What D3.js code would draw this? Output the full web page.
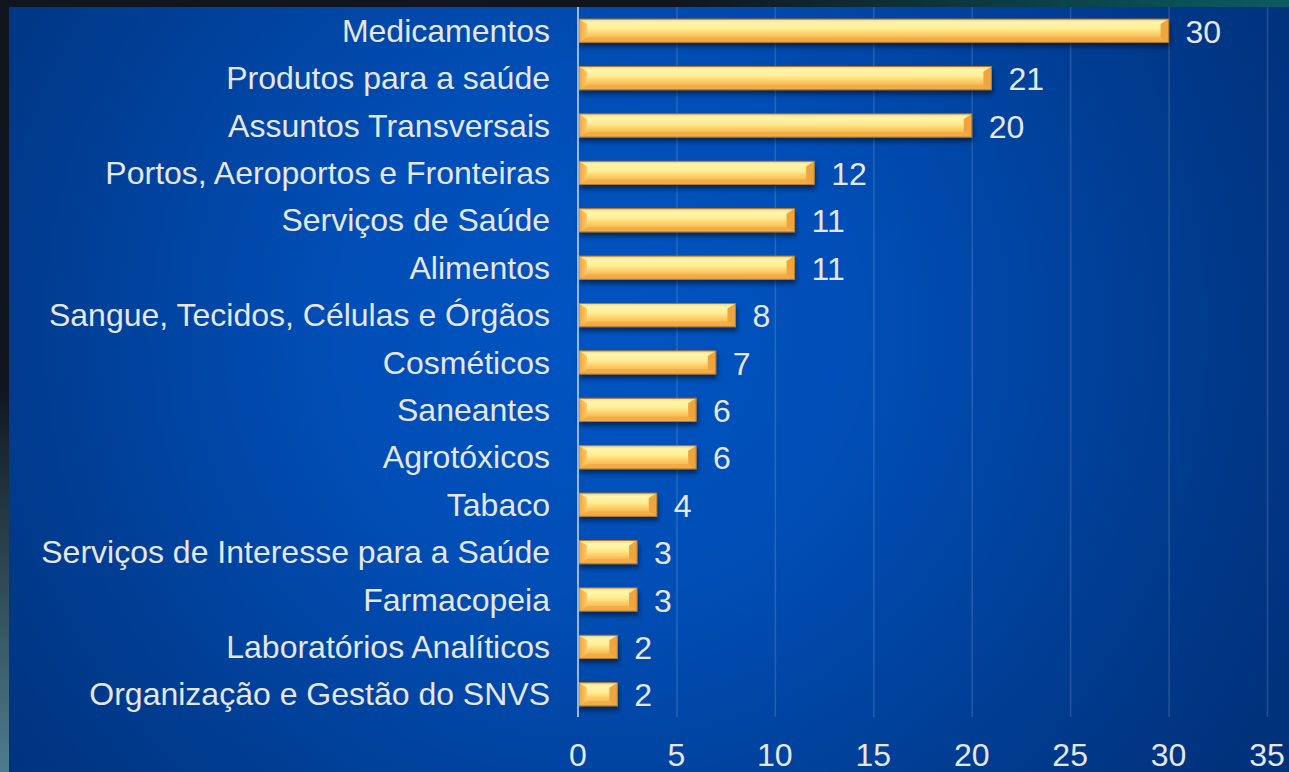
<!DOCTYPE html>
<html><head><meta charset="utf-8">
<script src="https://cdn.jsdelivr.net/npm/d3@7"></script>
<style>html,body{margin:0;padding:0;background:#10151e;}svg{display:block;}</style>
</head><body>
<script>
const categories = ["Medicamentos","Produtos para a saúde","Assuntos Transversais","Portos, Aeroportos e Fronteiras","Serviços de Saúde","Alimentos","Sangue, Tecidos, Células e Órgãos","Cosméticos","Saneantes","Agrotóxicos","Tabaco","Serviços de Interesse para a Saúde","Farmacopeia","Laboratórios Analíticos","Organização e Gestão do SNVS"];
const values = [30,21,20,12,11,11,8,7,6,6,4,3,3,2,2];
const ticks = [0,5,10,15,20,25,30,35];

const W = 1289, H = 772;
const svg = d3.select("body").append("svg").attr("width", W).attr("height", H);
const defs = svg.append("defs");

// frame gradients
const gTop = defs.append("linearGradient").attr("id","gTop").attr("x1","0").attr("x2","1").attr("y1","0").attr("y2","0");
gTop.append("stop").attr("offset","0").attr("stop-color","#10151e");
gTop.append("stop").attr("offset","0.52").attr("stop-color","#10151e");
gTop.append("stop").attr("offset","1").attr("stop-color","#0a5c62");
const gLeft = defs.append("linearGradient").attr("id","gLeft").attr("x1","0").attr("x2","0").attr("y1","0").attr("y2","1");
gLeft.append("stop").attr("offset","0").attr("stop-color","#10151e");
gLeft.append("stop").attr("offset","0.5").attr("stop-color","#10161f");
gLeft.append("stop").attr("offset","1").attr("stop-color","#4e7c8c");

const gBg = defs.append("radialGradient").attr("id","gBg").attr("gradientUnits","userSpaceOnUse")
  .attr("cx",600).attr("cy",330).attr("r",760);
gBg.append("stop").attr("offset","0").attr("stop-color","#0054c2");
gBg.append("stop").attr("offset","0.35").attr("stop-color","#004eb6");
gBg.append("stop").attr("offset","0.8").attr("stop-color","#003a8c");
gBg.append("stop").attr("offset","1").attr("stop-color","#00327c");

// bar gradients
const gBar = defs.append("linearGradient").attr("id","gBar").attr("x1","0").attr("x2","0").attr("y1","0").attr("y2","1");
gBar.append("stop").attr("offset","0").attr("stop-color","#f6d27a");
gBar.append("stop").attr("offset","0.14").attr("stop-color","#fff6b2");
gBar.append("stop").attr("offset","0.42").attr("stop-color","#ffed92");
gBar.append("stop").attr("offset","0.68").attr("stop-color","#fcc862");
gBar.append("stop").attr("offset","1").attr("stop-color","#f2aa44");
const gL = defs.append("linearGradient").attr("id","gL").attr("x1","0").attr("x2","1").attr("y1","0").attr("y2","0");
gL.append("stop").attr("offset","0").attr("stop-color","#f2a63a");
gL.append("stop").attr("offset","1").attr("stop-color","#fcc868");

const shadow = defs.append("filter").attr("id","shadow").attr("x","-10%").attr("y","-50%").attr("width","120%").attr("height","250%");
shadow.append("feGaussianBlur").attr("in","SourceAlpha").attr("stdDeviation",2.5).attr("result","b");
shadow.append("feOffset").attr("in","b").attr("dx",1).attr("dy",4).attr("result","o");
shadow.append("feComponentTransfer").attr("in","o").attr("result","o2").append("feFuncA").attr("type","linear").attr("slope",0.5);
const fm = shadow.append("feMerge");
fm.append("feMergeNode").attr("in","o2");
fm.append("feMergeNode").attr("in","SourceGraphic");

// background & frame
svg.append("rect").attr("x",0).attr("y",0).attr("width",W).attr("height",H).attr("fill","#10151e");
svg.append("rect").attr("x",0).attr("y",0).attr("width",W).attr("height",8).attr("fill","url(#gTop)");
svg.append("rect").attr("x",0).attr("y",0).attr("width",9).attr("height",H).attr("fill","url(#gLeft)");
svg.append("rect").attr("x",9).attr("y",7).attr("width",W-9).attr("height",H-7).attr("fill","url(#gBg)");

const x = d3.scaleLinear().domain([0,35]).range([578,1267]);
const y = d3.scaleBand().domain(categories).range([7,718]).paddingInner(0.51).paddingOuter(0.255);

const font = "'Liberation Sans', Arial, sans-serif";
const txtColor = "#e6e6e6";
const fs = 32;

// gridlines
svg.append("g").selectAll("line").data(ticks.filter(t=>t>0)).join("line")
  .attr("x1",d=>x(d)+0.5).attr("x2",d=>x(d)+0.5).attr("y1",7).attr("y2",717)
  .attr("stroke","#ffffff").attr("stroke-opacity",0.14).attr("stroke-width",1.5);

// bars
const bh = y.bandwidth();
const bev = 8;
const bars = svg.append("g").selectAll("g").data(categories).join("g")
  .attr("filter","url(#shadow)");
bars.each(function(c,i){
  const g = d3.select(this);
  const x0 = x(0)+1, x1 = x(values[i]);
  const y0 = y(c), y1 = y0+bh;
  const vb = 5;
  g.append("rect").attr("x",x0).attr("y",y0).attr("width",x1-x0).attr("height",bh).attr("fill","url(#gBar)");
  g.append("polygon").attr("points",[[x0,y1],[x0+bev,y1-vb],[x1-bev,y1-vb],[x1,y1]].join(" ")).attr("fill","#f2aa42").attr("opacity",0.85);
  g.append("polygon").attr("points",[[x0,y0],[x0+bev,y0+vb],[x0+bev,y1-vb],[x0,y1]].join(" ")).attr("fill","url(#gL)");
  g.append("polygon").attr("points",[[x1,y0],[x1-bev,y0+vb],[x1-bev,y1-vb],[x1,y1]].join(" ")).attr("fill","#eea53c");
  g.append("rect").attr("x",x0).attr("y",y0).attr("width",x1-x0).attr("height",bh).attr("fill","none").attr("stroke","#b8792a").attr("stroke-width",1);
});

// axis line
svg.append("line").attr("x1",x(0)).attr("x2",x(0)).attr("y1",7).attr("y2",717)
  .attr("stroke","#9bb4e0").attr("stroke-width",2);

// category labels
svg.append("g").selectAll("text").data(categories).join("text")
  .attr("x",550).attr("y",d=>y(d)+bh/2+11)
  .attr("text-anchor","end").attr("font-family",font).attr("font-size",fs).attr("fill",txtColor)
  .text(d=>d);

// value labels
svg.append("g").selectAll("text").data(categories).join("text")
  .attr("x",(d,i)=>x(values[i])+17).attr("y",d=>y(d)+bh/2+12)
  .attr("font-family",font).attr("font-size",fs).attr("fill",txtColor)
  .text((d,i)=>values[i]);

// tick labels
svg.append("g").selectAll("text").data(ticks).join("text")
  .attr("x",d=>x(d)).attr("y",766).attr("text-anchor","middle")
  .attr("font-family",font).attr("font-size",fs).attr("fill",txtColor)
  .text(d=>d);
</script>
</body></html>
